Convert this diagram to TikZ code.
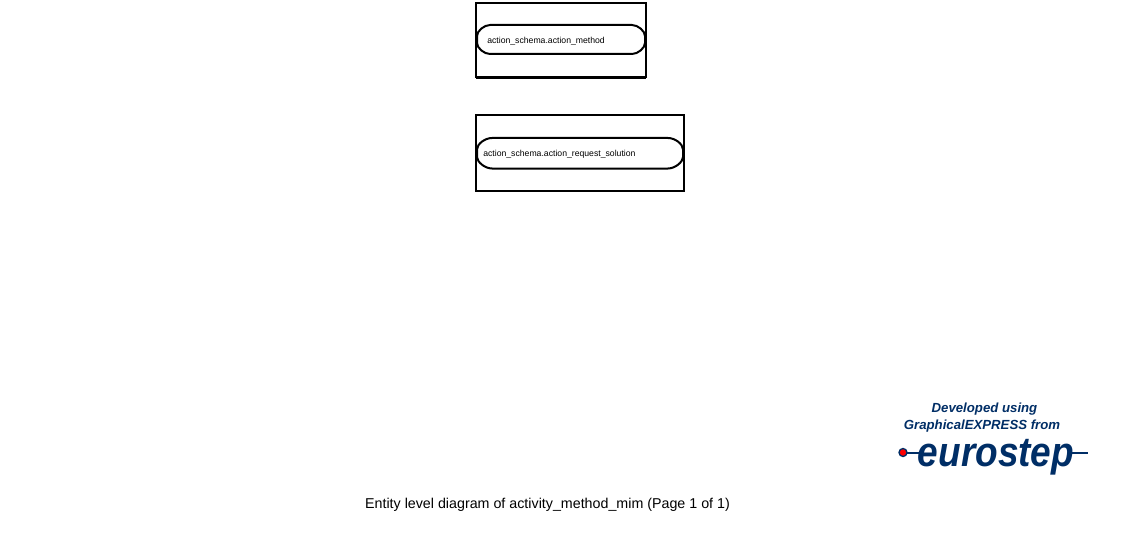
\documentclass[tikz,border=0pt]{standalone}
\usepackage{fontspec}
\setmainfont{Liberation Sans}
\definecolor{euro}{RGB}{0,46,102}
\tikzset{
  x=0.75pt,y=-0.75pt,
  outerbox/.style={draw=black,line width=1.5pt,fill=white},
  capsule/.style={draw=black,line width=1.5pt,fill=white},
  smalltext/.style={inner sep=0pt,anchor=west,font=\fontsize{6.5pt}{7pt}\selectfont},
  captiontext/.style={inner sep=0pt,anchor=center,font=\fontsize{10.7pt}{13pt}\selectfont},
  logotext/.style={inner sep=0pt,anchor=center,text=euro,font=\fontsize{9.9pt}{11pt}\selectfont\bfseries\itshape},
  eurotext/.style={inner sep=0pt,anchor=center,text=euro,font=\fontsize{25pt}{28pt}\selectfont\bfseries\itshape},
}
\begin{document}
\begin{tikzpicture}
\useasboundingbox (0,0) rectangle (1129,542);
\fill[white] (0,0) rectangle (1129,542);
% first entity
\draw[outerbox] (476,3) rectangle (646,77);
\draw[black,line width=1.5pt] (476,77.7) -- (646,77.7);
\draw[capsule] (490,25) -- (632,25) .. controls (638,25) and (645,31) .. (645,36) -- (645,43) .. controls (645,48) and (638,54) .. (632,54) -- (490,54) .. controls (484,54) and (477,48) .. (477,43) -- (477,36) .. controls (477,31) and (484,25) .. (490,25) -- cycle;
\node[smalltext] (t1) at (487,41.5) {action\_schema.action\_method};
% second entity
\draw[outerbox] (476,115) rectangle (684,190.5);
\draw[capsule] (492,138) -- (668,138) .. controls (675,138) and (683,144) .. (683,149.5) -- (683,157) .. controls (683,162) and (675,168.5) .. (668,168.5) -- (492,168.5) .. controls (485,168.5) and (477,162) .. (477,157) -- (477,149.5) .. controls (477,144) and (485,138) .. (492,138) -- cycle;
\node[smalltext] (t2) at (483,154.5) {action\_schema.action\_request\_solution};
% logo
\node[logotext] (l1) at (984.5,408.7) {Developed using};
\node[logotext] (l2) at (982,426.2) {GraphicalEXPRESS from};
\coordinate (dot) at (903,452.5);
\coordinate (la) at (924,452.5);
\coordinate (lb) at (1068,452.5);
\coordinate (lc) at (1088,452.5);
\draw[euro,line width=1.5pt] (dot) -- (la);
\draw[euro,line width=1.5pt] (lb) -- (lc);
\node[eurotext,xscale=1.11,yscale=1.25] (l3) at (996,457) {eurostep};
\fill[red,draw=euro,line width=1pt] (dot) circle (4);
% caption
\node[captiontext] (cap) at (547.5,504.5) {Entity level diagram of activity\_method\_mim (Page 1 of 1)};
\end{tikzpicture}
\end{document}
